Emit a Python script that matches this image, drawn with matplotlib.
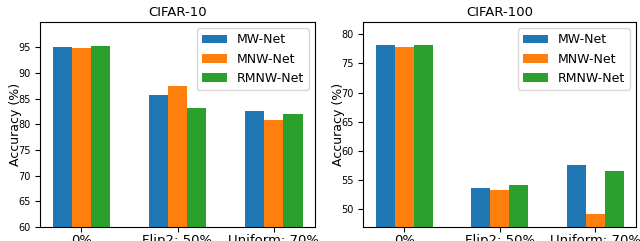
import matplotlib
matplotlib.use("Agg")
import matplotlib.pyplot as plt
import numpy as np

groups = ["0%", "Flip2: 50%", "Uniform: 70%"]
methods = ["MW-Net", "MNW-Net", "RMNW-Net"]
colors = ["#1f77b4", "#ff7f0e", "#2ca02c"]

cifar10 = {
    "MW-Net": [95.1, 85.6, 82.65],
    "MNW-Net": [94.9, 87.5, 80.9],
    "RMNW-Net": [95.3, 83.2, 82.05],
}
cifar100 = {
    "MW-Net": [78.1, 53.6, 57.6],
    "MNW-Net": [77.9, 53.3, 49.2],
    "RMNW-Net": [78.2, 54.2, 56.6],
}
titles = ["CIFAR-10", "CIFAR-100"]
ylims = [(60, 99.9), (47, 82.1)]
yticks = [[60, 65, 70, 75, 80, 85, 90, 95], [50, 55, 60, 65, 70, 75, 80]]

fig = plt.figure(figsize=(6.4, 2.41), dpi=100)
axes = [fig.add_axes([0.0625, 0.0581, 0.4297, 0.8506]),
        fig.add_axes([0.5677, 0.0581, 0.4263, 0.8506])]

x = np.arange(len(groups))
w = 0.2
for ax, data, title, yl, yt in zip(axes, [cifar10, cifar100], titles, ylims, yticks):
    for i, m in enumerate(methods):
        ax.bar(x + (i - 1) * w, data[m], w, color=colors[i], label=m)
    ax.set_ylim(*yl)
    ax.set_yticks(yt)
    ax.tick_params(axis="y", labelsize=7)
    ax.set_xticks(x)
    ax.set_xticklabels(groups, fontsize=9.5)
    ax.tick_params(axis="x", pad=1.5)
    ax.set_title(title, fontsize=9.5, pad=4)
    ax.set_ylabel("Accuracy (%)", fontsize=9)
    ax.yaxis.set_label_coords(-0.066, 0.5)
    ax.legend(loc="upper right", fontsize=9)

fig.savefig("out.png", dpi=100)
